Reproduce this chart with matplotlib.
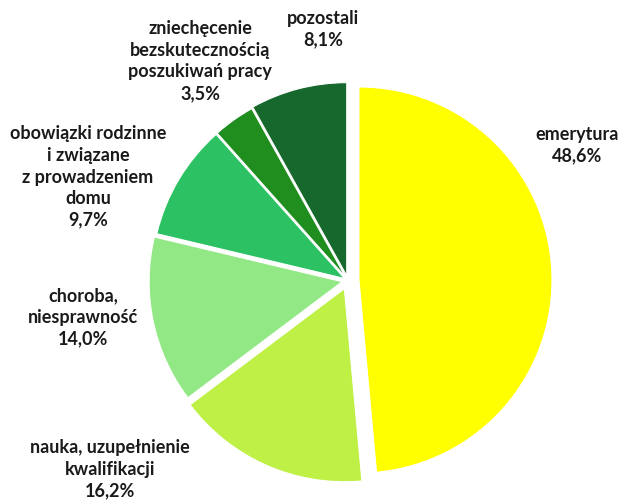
import numpy as np
import matplotlib.pyplot as plt

labels = ['emerytura', 'nauka, uzupełnienie\nkwalifikacji', 'choroba,\nniesprawność',
          'obowiązki rodzinne\ni związane\nz prowadzeniem\ndomu',
          'zniechęcenie\nbezskutecznością\nposzukiwań pracy', 'pozostali']
values = [48.6, 16.2, 14.0, 9.7, 3.5, 8.1]
colors = ['#FFFF00', '#BEF046', '#92E884', '#2CC264', '#1F8E1F', '#16682C']
# offsets in pixels (axes use pixel units)
explode = [11, 9, 6, 4, 4, 5]
# label block centres in pixel coords (x, y from top)
label_pos = [(577, 145), (110, 469), (83, 317), (88, 177), (200, 61), (323, 29)]

fig = plt.figure(figsize=(6.21, 5.0), dpi=100)
ax = fig.add_axes([0, 0, 1, 1])

ax.pie(values, colors=colors, explode=explode, startangle=90, counterclock=False,
       center=(348, 500 - 280.5), radius=193,
       wedgeprops=dict(edgecolor='white', linewidth=0.8))
ax.set_xlim(0, 621)
ax.set_ylim(0, 500)
ax.set_aspect('equal')
ax.axis('off')

for lab, v, (x, y) in zip(labels, values, label_pos):
    txt = lab + '\n' + ('%.1f%%' % v).replace('.', ',')
    ax.text(x, 500 - y, txt, ha='center', va='center', fontsize=13,
            fontweight='bold', family='Lato', color='#1a1a1a', linespacing=1.33)

fig.savefig('out.png', dpi=100)
